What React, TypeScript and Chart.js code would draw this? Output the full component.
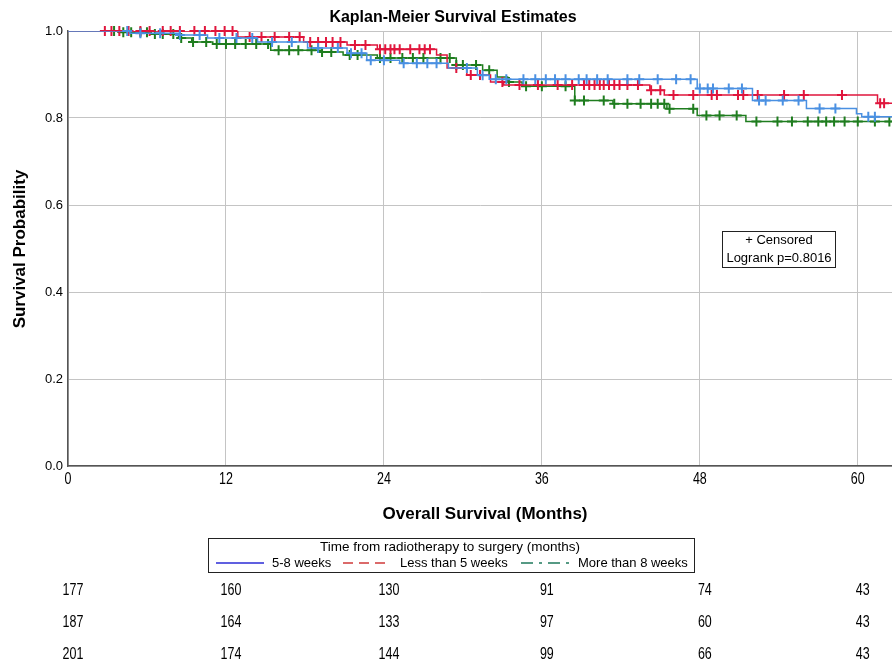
import React, { useEffect, useRef } from "react";
import { Chart, registerables } from "chart.js";
Chart.register(...registerables);

// ---- data ----
const xTickValues = [0, 12, 24, 36, 48, 60];
const xMax = 62.6;
const riskTimes = [0, 12, 24, 36, 48, 60];
const riskBlue = [177, 160, 130, 91, 74, 43];
const riskRed = [187, 164, 133, 97, 60, 43];
const riskGreen = [201, 174, 144, 99, 66, 43];

// 5-8 weeks (blue): step times and survival after each step
const blueTimes = [0, 4.7, 8.4, 10.6, 14.4, 18.2, 21.2, 22.7, 25.2, 28.9, 31.1, 32.0, 47.8, 52.0, 56.1, 59.9, 60.3];
const blueSurv = [1, 0.995, 0.991, 0.984, 0.975, 0.961, 0.949, 0.933, 0.926, 0.915, 0.898, 0.889, 0.868, 0.84, 0.822, 0.81, 0.803];
const blueCensor = [4.5, 5.5, 7, 8.5, 10, 11.5, 12.8, 14, 15.5, 17, 19, 20.5, 21.5, 22.3, 23, 24, 25.5, 26.5, 27.3, 28, 30.3, 31.5, 32.5, 33.3, 34.6, 35.5, 36.3, 37, 37.8, 38.8, 39.4, 40.2, 41, 42.5, 43.4, 44.8, 46.2, 47.3, 48, 48.6, 49, 50.2, 51.2, 52.5, 53, 54.3, 55.5, 57.1, 58.3, 60.8, 61.3];

// Less than 5 weeks (red)
const redTimes = [0, 12.9, 17.9, 21.2, 23.5, 28.0, 28.8, 30.3, 32.1, 33.1, 44.2, 45.3, 61.5];
const redSurv = [1, 0.986, 0.975, 0.968, 0.958, 0.945, 0.915, 0.899, 0.883, 0.876, 0.864, 0.853, 0.834];
const redCensor = [2.8, 3.3, 3.9, 4.6, 5.5, 6.2, 7.2, 7.8, 8.5, 9.6, 10.4, 11.2, 11.9, 12.5, 13.8, 14.7, 15.7, 16.8, 17.6, 18.4, 19, 19.6, 20.1, 20.7, 21.8, 22.6, 23.7, 24.1, 24.5, 24.8, 25.2, 26, 26.7, 27.1, 27.5, 29.5, 30.6, 31.3, 33, 34.3, 35.7, 37.2, 38.3, 39.2, 39.6, 40, 40.4, 40.7, 41.1, 41.5, 41.9, 42.5, 43.3, 44.3, 45, 46, 47.5, 48.9, 49.3, 50.9, 51.3, 52.4, 54.4, 55.9, 58.8, 61.7, 62];

// More than 8 weeks (green)
const greenTimes = [0, 3.8, 6.3, 8.4, 9.4, 11.0, 15.4, 19.3, 20.9, 23.5, 29.5, 31.5, 32.6, 33.4, 34.5, 38.5, 41.4, 45.5, 47.8, 51.5];
const greenSurv = [1, 0.997, 0.993, 0.984, 0.975, 0.97, 0.956, 0.952, 0.945, 0.938, 0.922, 0.91, 0.894, 0.883, 0.873, 0.84, 0.833, 0.821, 0.806, 0.792];
const greenCensor = [3.5, 4.2, 4.8, 5.5, 6, 6.6, 7.2, 8, 8.6, 9.5, 10.5, 11.3, 12, 12.7, 13.5, 14.3, 15.2, 16, 16.8, 17.5, 18.5, 19.3, 20, 21.4, 22, 23.7, 24.5, 25.4, 26.2, 27, 28.3, 29, 29.5, 30, 31, 32, 33.5, 34.8, 36, 37.8, 38.5, 39.2, 40.7, 41.5, 42.5, 43.5, 44.3, 44.8, 45.3, 45.7, 47.5, 48.5, 49.5, 50.8, 52.3, 53.9, 55, 56.2, 57, 57.6, 58.2, 59, 60, 61.3, 62.4];

const BLUE = "#4a90e2";
const RED = "#e0163d";
const GREEN = "#1f7d1f";

function stepLine(times: number[], surv: number[]) {
  const pts = times.map((t, i) => ({ x: t, y: surv[i] }));
  pts.push({ x: xMax, y: surv[surv.length - 1] });
  return pts;
}
function survAt(times: number[], surv: number[], t: number) {
  let s = surv[0];
  for (let i = 0; i < times.length; i++) if (times[i] <= t) s = surv[i];
  return s;
}
function censorPts(times: number[], surv: number[], cens: number[]) {
  return cens.map((t) => ({ x: t, y: survAt(times, surv, t) }));
}

const SANS = "'Liberation Sans', Arial, sans-serif";

function narrowText(ctx: CanvasRenderingContext2D, s: string, x: number, y: number, sx: number) {
  ctx.save();
  ctx.translate(x, y);
  ctx.scale(sx, 1);
  ctx.fillText(s, 0, 0);
  ctx.restore();
}

const overlay = {
  id: "overlay",
  afterDraw(chart: any) {
    const ctx = chart.ctx as CanvasRenderingContext2D;
    const xs = chart.scales.x;
    ctx.save();
    ctx.fillStyle = "#000";
    ctx.textBaseline = "middle";
    // title
    ctx.font = "bold 16px " + SANS;
    ctx.textAlign = "center";
    ctx.fillText("Kaplan-Meier Survival Estimates", 453, 18);
    // y title
    ctx.save();
    ctx.translate(20, 249);
    ctx.rotate(-Math.PI / 2);
    ctx.font = "bold 17px " + SANS;
    ctx.fillText("Survival Probability", 0, 0);
    ctx.restore();
    // x title
    ctx.font = "bold 17px " + SANS;
    ctx.fillText("Overall Survival (Months)", 485, 514);
    // x tick labels (narrow)
    ctx.font = "16px " + SANS;
    xTickValues.forEach((v) => {
      narrowText(ctx, String(v), xs.getPixelForValue(v), 480, 0.78);
    });
    // censored box
    ctx.strokeStyle = "#222";
    ctx.lineWidth = 1;
    ctx.strokeRect(722.5, 231.5, 113, 36);
    ctx.font = "13px " + SANS;
    ctx.fillText("+ Censored", 779, 240);
    ctx.fillText("Logrank p=0.8016", 779, 258);
    // legend box
    ctx.strokeRect(208.5, 538.5, 486, 34);
    ctx.font = "13.5px " + SANS;
    ctx.fillText("Time from radiotherapy to surgery (months)", 450, 547);
    ctx.textAlign = "left";
    ctx.font = "13px " + SANS;
    ctx.fillText("5-8 weeks", 272, 563);
    ctx.fillText("Less than 5 weeks", 400, 563);
    ctx.fillText("More than 8 weeks", 578, 563);
    ctx.lineWidth = 1.5;
    ctx.strokeStyle = "#2b2bd6";
    ctx.beginPath(); ctx.moveTo(216, 563); ctx.lineTo(264, 563); ctx.stroke();
    ctx.strokeStyle = "#d03a3a";
    ctx.setLineDash([10, 6]);
    ctx.beginPath(); ctx.moveTo(343, 563); ctx.lineTo(391, 563); ctx.stroke();
    ctx.strokeStyle = "#1f7a5c";
    ctx.setLineDash([12, 6, 3, 6]);
    ctx.beginPath(); ctx.moveTo(521, 563); ctx.lineTo(570, 563); ctx.stroke();
    ctx.setLineDash([]);
    // number at risk
    ctx.fillStyle = "#000";
    ctx.textAlign = "center";
    ctx.font = "16px " + SANS;
    const rows = [riskBlue, riskRed, riskGreen];
    const ys = [591, 623, 655];
    rows.forEach((row, r) => {
      row.forEach((v, i) => {
        const px = xs.getPixelForValue(riskTimes[i]) + 5;
        narrowText(ctx, String(v), px, ys[r], 0.78);
      });
    });
    ctx.restore();
  },
};

export default function App() {
  const ref = useRef<HTMLCanvasElement | null>(null);
  useEffect(() => {
    if (!ref.current) return;
    const mk = (label: string, color: string, data: any[], line: boolean) =>
      line
        ? {
            label,
            data,
            borderColor: color,
            backgroundColor: color,
            borderWidth: 1.5,
            stepped: "before" as const,
            pointRadius: 0,
            fill: false,
          }
        : {
            label,
            data,
            showLine: false,
            clip: false as const,
            borderColor: color,
            backgroundColor: color,
            pointStyle: "cross" as const,
            pointRadius: 5,
            pointBorderWidth: 2,
          };
    const chart = new Chart(ref.current, {
      type: "line",
      data: {
        datasets: [
          mk("5-8 weeks", BLUE, stepLine(blueTimes, blueSurv), true),
          mk("5-8 weeks censored", BLUE, censorPts(blueTimes, blueSurv, blueCensor), false),
          mk("Less than 5 weeks", RED, stepLine(redTimes, redSurv), true),
          mk("Less than 5 weeks censored", RED, censorPts(redTimes, redSurv, redCensor), false),
          mk("More than 8 weeks", GREEN, stepLine(greenTimes, greenSurv), true),
          mk("More than 8 weeks censored", GREEN, censorPts(greenTimes, greenSurv, greenCensor), false),
        ],
      },
      options: {
        responsive: false,
        animation: false,
        layout: { autoPadding: false, padding: { top: 31, left: 0, right: 0, bottom: 0 } },
        plugins: { legend: { display: false }, title: { display: false }, tooltip: { enabled: false } },
        scales: {
          x: {
            type: "linear",
            min: 0,
            max: xMax,
            afterFit: (s: any) => { s.height = 195; },
            afterBuildTicks: (s: any) => { s.ticks = xTickValues.map((v) => ({ value: v })); },
            ticks: { display: false },
            grid: { color: "#c4c4c4", drawTicks: false, lineWidth: 1 },
            border: { display: true, color: "#555", width: 1.5 },
          },
          y: {
            type: "linear",
            min: 0,
            max: 1,
            afterFit: (s: any) => { s.width = 68; },
            ticks: {
              stepSize: 0.2,
              color: "#000",
              padding: 5,
              font: { family: SANS, size: 13 },
              callback: (v: any) => Number(v).toFixed(1),
            },
            grid: { color: "#c4c4c4", drawTicks: false, lineWidth: 1 },
            border: { display: true, color: "#555", width: 1.5 },
          },
        },
      },
      plugins: [overlay],
    });
    return () => chart.destroy();
  }, []);
  return (
    <div style={{ position: "absolute", left: 0, top: 0, width: 892, height: 661, background: "#fff" }}>
      <canvas ref={ref} width={892} height={661} />
    </div>
  );
}
